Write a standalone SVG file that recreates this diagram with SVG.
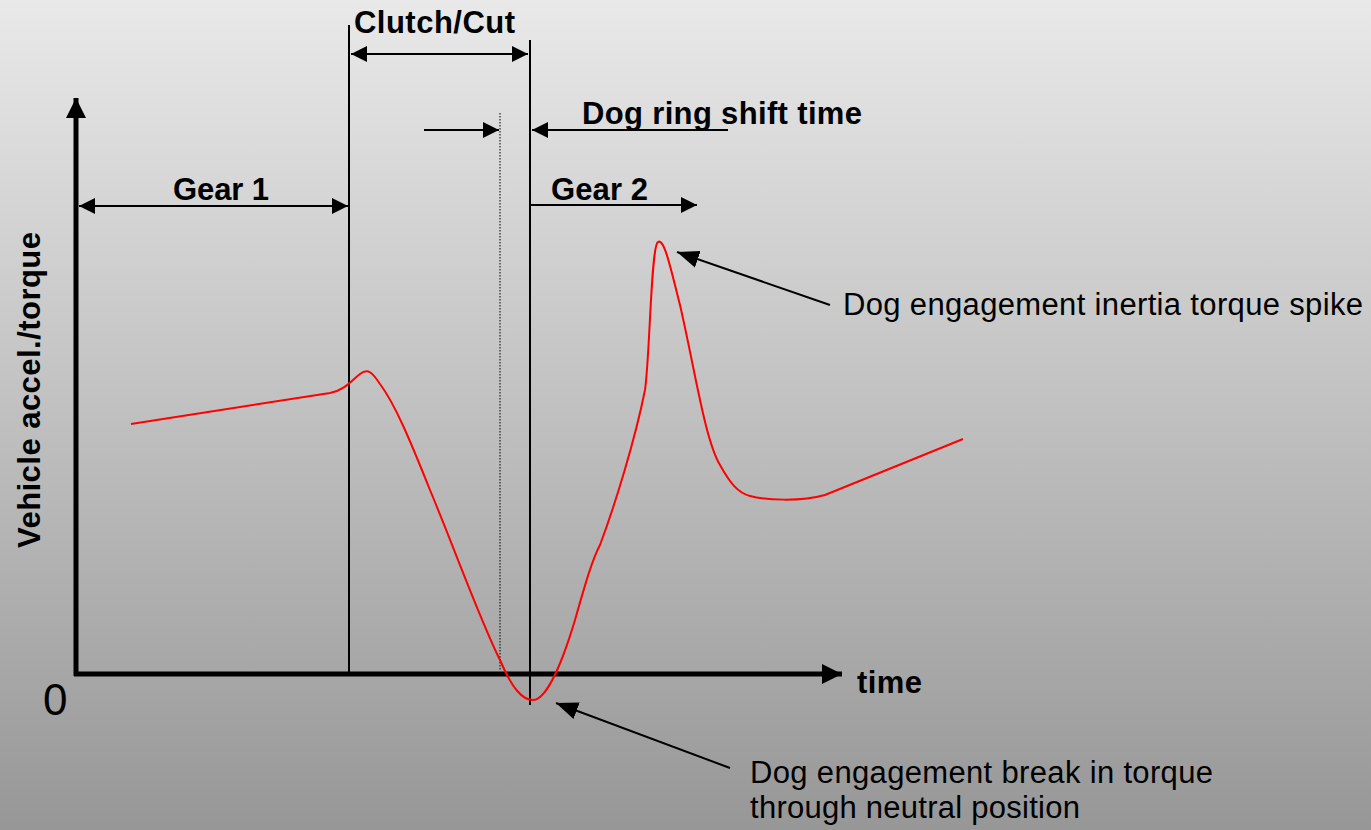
<svg xmlns="http://www.w3.org/2000/svg" width="1371" height="830" viewBox="0 0 1371 830">
<defs>
<linearGradient id="bg" x1="0" y1="0" x2="0" y2="1">
<stop offset="0" stop-color="#e9e9e9"/>
<stop offset="1" stop-color="#979797"/>
</linearGradient>
<marker id="ah" viewBox="0 0 10 10" refX="10" refY="5" markerWidth="16" markerHeight="16" markerUnits="userSpaceOnUse" orient="auto-start-reverse">
<path d="M0,0 L10,5 L0,10 z" fill="#000"/>
</marker>
<marker id="ahBig" viewBox="0 0 10 10" refX="10" refY="5" markerWidth="4" markerHeight="4" orient="auto">
<path d="M0,0 L10,5 L0,10 z" fill="#000"/>
</marker>
<marker id="ahA" viewBox="0 0 10 10" refX="10" refY="5" markerWidth="22" markerHeight="22" markerUnits="userSpaceOnUse" orient="auto">
<path d="M0,1 L10,5 L0,9 z" fill="#000"/>
</marker>
</defs>
<style>
.b{font-family:"Liberation Sans",Arial,sans-serif;font-weight:bold;font-size:31px;fill:#000}
.n{font-family:"Liberation Sans",Arial,sans-serif;font-size:31px;fill:#000}
.ln{stroke:#000;stroke-width:2;fill:none}
</style>
<rect width="1371" height="830" fill="url(#bg)"/>
<g id="connectors">
<line x1="76" y1="676" x2="76" y2="98" stroke="#000" stroke-width="5" marker-end="url(#ahBig)"/>
<line x1="74" y1="674" x2="842" y2="674" stroke="#000" stroke-width="5" marker-end="url(#ahBig)"/>
<line class="ln" x1="349" y1="25" x2="349" y2="672"/>
<line class="ln" x1="530" y1="40" x2="530" y2="705"/>
<line x1="500" y1="113" x2="500" y2="670" stroke="#000" stroke-width="1" stroke-dasharray="1.5,1.5"/>
<line class="ln" x1="351" y1="54" x2="528" y2="54" marker-start="url(#ah)" marker-end="url(#ah)"/>
<line class="ln" x1="424" y1="130" x2="499" y2="130" marker-end="url(#ah)"/>
<line class="ln" x1="728" y1="130" x2="532" y2="130" marker-end="url(#ah)"/>
<line class="ln" x1="79" y1="206" x2="348" y2="206" marker-start="url(#ah)" marker-end="url(#ah)"/>
<line class="ln" x1="531" y1="205" x2="697" y2="205" marker-end="url(#ah)"/>
<line class="ln" x1="830" y1="305" x2="677" y2="252" marker-end="url(#ahA)"/>
<line class="ln" x1="730" y1="768" x2="556" y2="703" marker-end="url(#ahA)"/>
</g>
<g id="curve">
<path d="M131,424 L330,393 C345,390 352,380 360,374 C368,368 372,372 380,384 C395,404 410,440 430,490 C455,550 480,620 500,660 C512,688 522,700 533,700 C545,700 560,670 575,620 C585,585 592,560 600,545 C615,505 635,440 645,390 C650,355 651,245 658,242 C664,238 670,265 680,305 C695,370 705,440 720,465 C730,483 738,493 750,496 C765,500 800,502 825,495 L963,439" fill="none" stroke="#ff0000" stroke-width="2"/>
</g>
<g id="labels">
<text class="b" x="354" y="33" textLength="161">Clutch/Cut</text>
<text class="b" x="582" y="124" textLength="280">Dog ring shift time</text>
<text class="b" x="173" y="200" textLength="96">Gear 1</text>
<text class="b" x="551" y="200" textLength="97">Gear 2</text>
<text class="b" x="857" y="693" textLength="65">time</text>
<text class="n" x="43" y="715" style="font-size:44px">0</text>
<text class="b" transform="translate(40,390) rotate(-90)" text-anchor="middle" textLength="316">Vehicle accel./torque</text>
<text class="n" x="843" y="315" textLength="520">Dog engagement inertia torque spike</text>
<text class="n" x="750" y="783" textLength="463">Dog engagement break in torque</text>
<text class="n" x="750" y="818" textLength="330">through neutral position</text>
</g>
</svg>
